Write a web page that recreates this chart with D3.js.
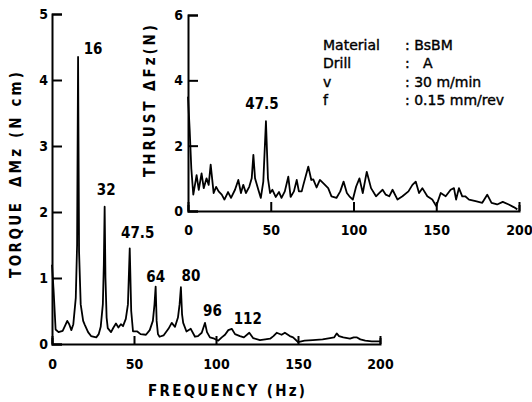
<!DOCTYPE html>
<html>
<head>
<meta charset="utf-8">
<script src="https://cdn.jsdelivr.net/npm/d3@7"></script>
<style>
  body { margin: 0; background: #fff; }
  svg text { fill: #000; }
  .axis path, .axis line { stroke: #000; stroke-width: 2px; }
  .axis text { font-family: "DejaVu Sans Condensed", "DejaVu Sans"; font-size: 14px; font-weight: bold; }
  .line { fill: none; stroke: #000; stroke-width: 1.8px; stroke-linejoin: round; }
</style>
</head>
<body>
<div id="mainchart"></div>
<script>
// torque spectrum, frequency (Hz) / dMz (N cm)
var torqueFreq = [0,1,2.2,4,6.5,8,9.3,10.5,11.8,13,14.5,15.3,15.9,16.5,17.5,19,20,22,23.8,27,28.5,29.7,31,31.6,32.1,32.6,33.3,34,36,37.5,39,40.5,42,43.3,45,46.3,47.4,48.3,49.4,52,54,57.3,59.6,61.5,62.5,63.2,63.8,64.6,65.6,68,71,73,75,76.8,77.8,78.6,79.3,80,82,84.6,87.2,89,91.3,93.3,94.5,96.3,99,101.4,103.5,105.5,107.5,109.6,111.6,114.6,117,120.3,122.6,126.8,130,133,135,137,140,142,145,147,150,154,159,165,169.5,172,173.6,175,177.6,181.7,184,186,188,191,195,200];
var torqueVal = [1.2,0.8,0.22,0.18,0.2,0.28,0.35,0.3,0.21,0.3,0.7,1.5,4.35,1.4,0.6,0.35,0.29,0.18,0.12,0.1,0.15,0.26,0.6,1.2,2.08,1.0,0.4,0.24,0.18,0.25,0.31,0.25,0.3,0.27,0.38,0.6,1.45,0.5,0.19,0.19,0.15,0.14,0.21,0.35,0.6,0.87,0.35,0.15,0.11,0.13,0.23,0.32,0.26,0.4,0.6,0.86,0.45,0.32,0.19,0.23,0.11,0.12,0.17,0.32,0.18,0.1,0.08,0.05,0.1,0.14,0.21,0.23,0.15,0.12,0.1,0.17,0.09,0.06,0.07,0.08,0.12,0.17,0.14,0.17,0.12,0.1,0.03,0.05,0.06,0.07,0.09,0.1,0.16,0.12,0.1,0.08,0.1,0.1,0.07,0.05,0.04,0.04];

// thrust spectrum, frequency (Hz) / dFz (N)
var thrustFreq = [0,1,2,3.2,5.2,6.5,8.2,9.5,11.2,12.5,13.7,15.5,17,18.5,20.4,22,24.2,26,28.4,30.4,32,33.4,35,37,38.5,39.5,40.5,42.5,44,45.5,47.1,48.3,49.6,51,53,55,56.5,58.5,60.6,62,64,65.7,67,68.7,69.7,72.7,74.5,75.7,77.7,79.7,81.7,84.7,86.7,89.7,92,94,96,97.5,99.6,101.6,103.6,105.6,108,110.6,113.6,115.5,117.6,119.5,121.6,123.6,126.6,129.6,133.2,135.6,137.6,139.6,141.6,144.6,147.6,150,152.7,155.7,158.7,160.7,162,163.7,165.7,167.5,169.8,173.8,177.8,180.8,183.4,186.8,190.2,193.8,196.8,199];
var thrustVal = [3.5,2.5,1.3,0.5,1.1,0.65,1.15,0.7,1.0,0.8,1.42,0.55,0.74,0.6,0.5,0.35,0.58,0.4,0.65,0.95,0.55,0.8,0.55,0.74,1.0,1.72,1.0,0.65,0.4,0.9,2.75,1.0,0.55,0.65,0.43,0.58,0.4,0.6,1.05,0.43,0.6,0.95,0.6,0.6,0.8,1.36,0.95,0.97,0.72,0.95,0.85,0.7,0.45,0.4,0.6,0.9,0.55,0.45,0.35,0.75,1.0,0.55,1.2,0.7,0.45,0.55,0.65,0.5,0.45,0.65,0.35,0.45,0.6,0.8,0.9,0.55,0.7,0.45,0.35,0.15,0.55,0.45,0.65,0.7,0.35,0.7,0.45,0.45,0.35,0.3,0.25,0.5,0.25,0.2,0.28,0.2,0.12,0.05];

var xTicks = [0, 50, 100, 150, 200];
var torqueTicks = [0, 1, 2, 3, 4, 5];
var thrustTicks = [0, 2, 4, 6];

// peak labels
var torquePeaks = ["16", "32", "47.5", "64", "80", "96", "112"];
var torquePeakFreq = [15.9, 32.1, 47.4, 63.2, 78.6, 93.3, 109.6];
var torquePeakVal = [4.35, 2.08, 1.45, 0.87, 0.86, 0.32, 0.23];
var thrustPeaks = ["47.5"];
var thrustPeakFreq = [47.1];
var thrustPeakVal = [2.75];

var infoKeys = ["Material", "Drill", "v", "f"];
var infoVals = ["BsBM", "  A", "30 m/min", "0.15 mm/rev"];

var width = 532, height = 402;

var svg = d3.select("#mainchart").append("svg")
  .attr("width", width)
  .attr("height", height)
  .style("background", "#fff");

// torque panel
var x = d3.scaleLinear().domain([0, 200]).range([52, 380]);
var y = d3.scaleLinear().domain([0, 5]).range([344, 14]);
// thrust panel
var x1 = d3.scaleLinear().domain([0, 200]).range([188, 519]);
var y1 = d3.scaleLinear().domain([0, 6]).range([211, 15]);

var torqueData = torqueFreq.map(function(f, i) { return {f: f, v: torqueVal[i]}; });
var thrustData = thrustFreq.map(function(f, i) { return {f: f, v: thrustVal[i]}; });

svg.append("g")
  .attr("class", "x axis")
  .attr("transform", "translate(0," + y(0) + ")")
  .call(d3.axisBottom(x).tickValues(xTicks).tickSize(-8).tickSizeOuter(-6).tickPadding(15).tickFormat(d3.format("d")));

svg.append("g")
  .attr("class", "y axis")
  .attr("transform", "translate(" + x(0) + ",0)")
  .call(d3.axisLeft(y).tickValues(torqueTicks).tickSize(-10).tickSizeOuter(-10).tickPadding(4).tickFormat(d3.format("d")));

svg.append("g")
  .attr("class", "x axis")
  .attr("transform", "translate(0," + y1(0) + ")")
  .call(d3.axisBottom(x1).tickValues(xTicks).tickSize(-9).tickSizeOuter(-6).tickPadding(14).tickFormat(d3.format("d")));

svg.append("g")
  .attr("class", "y axis")
  .attr("transform", "translate(" + x1(0) + ",0)")
  .call(d3.axisLeft(y1).tickValues(thrustTicks).tickSize(-10).tickSizeOuter(-10).tickPadding(5).tickFormat(d3.format("d")));

svg.append("path")
  .datum(torqueData)
  .attr("class", "line")
  .attr("d", d3.line()
    .x(function(d) { return x(d.f); })
    .y(function(d) { return y(d.v); }));

svg.append("path")
  .datum(thrustData)
  .attr("class", "line")
  .attr("d", d3.line()
    .x(function(d) { return x1(d.f); })
    .y(function(d) { return y1(d.v); }));

var labelFont = '"DejaVu Sans Condensed", "DejaVu Sans"';

// label offsets from the peak tip
var peakDx = [15, 1.5, 8, 0, 10, 7.5, 16];
var peakDy = [-2.5, -12, -10, -5, -6, -6.5, -5];

svg.selectAll("text.peak")
  .data(torquePeaks).enter()
  .append("text")
  .attr("class", "peak")
  .attr("x", function(d, i) { return x(torquePeakFreq[i]) + peakDx[i]; })
  .attr("y", function(d, i) { return y(torquePeakVal[i]) + peakDy[i]; })
  .attr("text-anchor", "middle")
  .style("font-family", labelFont).style("font-size", "15px").style("font-weight", "bold")
  .text(function(d) { return d; });

svg.selectAll("text.peak1")
  .data(thrustPeaks).enter()
  .append("text")
  .attr("class", "peak1")
  .attr("x", function(d, i) { return x1(thrustPeakFreq[i]) - 4; })
  .attr("y", function(d, i) { return y1(thrustPeakVal[i]) - 12; })
  .attr("text-anchor", "middle")
  .style("font-family", labelFont).style("font-size", "15px").style("font-weight", "bold")
  .text(function(d) { return d; });

// axis titles
svg.append("text")
  .attr("transform", "translate(21,278) rotate(-90)")
  .attr("textLength", 75).attr("lengthAdjust", "spacing")
  .style("font-family", labelFont).style("font-size", "15px").style("font-weight", "bold")
  .text("TORQUE");

svg.append("text")
  .attr("transform", "translate(21,187) rotate(-90)")
  .attr("textLength", 115).attr("lengthAdjust", "spacing")
  .style("font-family", labelFont).style("font-size", "15px").style("font-weight", "bold")
  .text("ΔMz (N cm)");

svg.append("text")
  .attr("transform", "translate(155,177) rotate(-90)")
  .attr("textLength", 152).attr("lengthAdjust", "spacing")
  .style("font-family", labelFont).style("font-size", "15px").style("font-weight", "bold")
  .text("THRUST  ΔFz(N)");

svg.append("text")
  .attr("x", 148).attr("y", 396)
  .attr("textLength", 157).attr("lengthAdjust", "spacing")
  .style("font-family", labelFont).style("font-size", "15px").style("font-weight", "bold")
  .text("FREQUENCY (Hz)");

// test conditions
var rowY = [50, 68, 87, 105];
var info = svg.append("g")
  .style("font-family", '"DejaVu Sans"').style("font-size", "14px")
  .style("stroke", "#000").style("stroke-width", "0.4px");
info.selectAll("text.key")
  .data(infoKeys).enter()
  .append("text")
  .attr("class", "key")
  .attr("x", 323)
  .attr("y", function(d, i) { return rowY[i]; })
  .text(function(d) { return d; });

info.selectAll("text.val")
  .data(infoVals).enter()
  .append("text")
  .attr("class", "val")
  .attr("x", 405)
  .attr("y", function(d, i) { return rowY[i]; })
  .attr("xml:space", "preserve")
  .style("white-space", "pre")
  .text(function(d) { return ": " + d; });
</script>
</body>
</html>
